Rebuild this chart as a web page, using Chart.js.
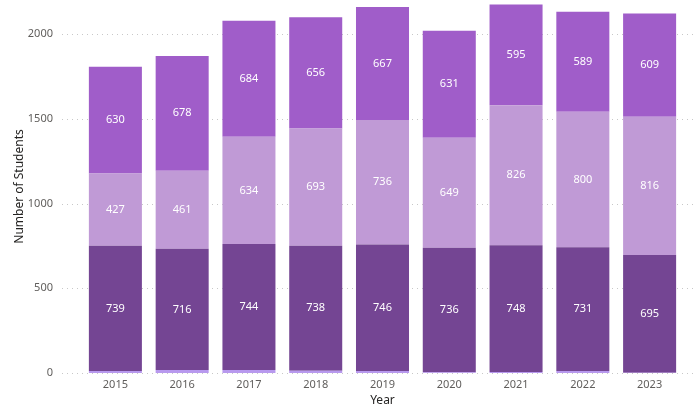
<!DOCTYPE html>
<html>
<head>
<meta charset="utf-8">
<script src="https://cdn.jsdelivr.net/npm/chart.js@4.4.1/dist/chart.umd.min.js"></script>
<style>
  html,body{margin:0;padding:0;background:#fff;}
  #wrap{width:696px;height:406px;position:relative;}
</style>
</head>
<body>
<div id="wrap"><canvas id="c" width="696" height="406"></canvas></div>
<script>
const years = ['2015','2016','2017','2018','2019','2020','2021','2022','2023'];
const seriesSmall = [12, 17, 17, 13, 12, 4, 6, 12, 2];
const seriesDark  = [739, 716, 744, 738, 746, 736, 748, 731, 695];
const seriesMid   = [427, 461, 634, 693, 736, 649, 826, 800, 816];
const seriesTop   = [630, 678, 684, 656, 667, 631, 595, 589, 609];
const yTicks = [0, 500, 1000, 1500, 2000];

const FONT = "'Noto Sans', 'Open Sans', sans-serif";

const labelPlugin = {
  id: 'segLabels',
  afterDatasetsDraw(chart) {
    const ctx = chart.ctx;
    ctx.save();
    ctx.font = "11px " + FONT;
    ctx.fillStyle = '#ffffff';
    ctx.textAlign = 'center';
    ctx.textBaseline = 'middle';
    chart.data.datasets.forEach((ds, i) => {
      if (!ds.showLabels) return;
      const meta = chart.getDatasetMeta(i);
      meta.data.forEach((el, j) => {
        const y = (el.y + el.base) / 2;
        ctx.fillText(String(ds.data[j]), el.x, y);
      });
    });
    ctx.restore();
  }
};

const gridPlugin = {
  id: 'dotGrid',
  beforeDatasetsDraw(chart) {
    const ctx = chart.ctx;
    const ys = chart.scales.y;
    ctx.save();
    ctx.strokeStyle = '#c8c8c8';
    ctx.lineWidth = 1;
    ctx.setLineDash([1, 4]);
    yTicks.forEach(v => {
      const py = Math.round(ys.getPixelForValue(v)) + 0.5;
      ctx.beginPath();
      ctx.moveTo(62, py);
      ctx.lineTo(696, py);
      ctx.stroke();
    });
    ctx.restore();
  }
};

new Chart(document.getElementById('c'), {
  type: 'bar',
  data: {
    labels: years,
    datasets: [
      { label: 'Other', data: seriesSmall, backgroundColor: '#B899EE', showLabels: false },
      { label: 'A', data: seriesDark, backgroundColor: '#744593', showLabels: true },
      { label: 'B', data: seriesMid, backgroundColor: '#C09AD6', showLabels: true },
      { label: 'C', data: seriesTop, backgroundColor: '#A05DC9', showLabels: true }
    ]
  },
  options: {
    responsive: false,
    animation: false,
    layout: { padding: { top: 0, right: 13, left: 0, bottom: 0 } },
    datasets: { bar: { categoryPercentage: 0.794, barPercentage: 1.0, borderWidth: 0 } },
    plugins: { legend: { display: false }, tooltip: { enabled: false } },
    scales: {
      x: {
        stacked: true,
        grid: { display: false, drawTicks: false },
        border: { display: false },
        ticks: { color: '#605E5C', font: { size: 11, family: FONT }, padding: 5, maxRotation: 0 },
        title: { display: true, text: 'Year', color: '#252423', font: { size: 12, family: FONT, weight: 'normal' }, padding: { top: 2, bottom: -2 } },
        afterFit(scale) { scale.height = 33; }
      },
      y: {
        stacked: true,
        min: 0,
        max: 2202,
        grid: { display: false, drawTicks: false },
        border: { display: false },
        afterBuildTicks(scale) { scale.ticks = yTicks.map(v => ({ value: v })); },
        ticks: { color: '#605E5C', font: { size: 11, family: FONT }, padding: 29, callback: v => String(v) },
        title: { display: true, text: 'Number of Students', color: '#252423', font: { size: 12, family: FONT, weight: 'normal' }, padding: { top: 12, bottom: 4 } },
        afterFit(scale) { scale.width = 82; scale.paddingTop = 0; scale.paddingBottom = 0; }
      }
    }
  },
  plugins: [gridPlugin, labelPlugin]
});
</script>
</body>
</html>
